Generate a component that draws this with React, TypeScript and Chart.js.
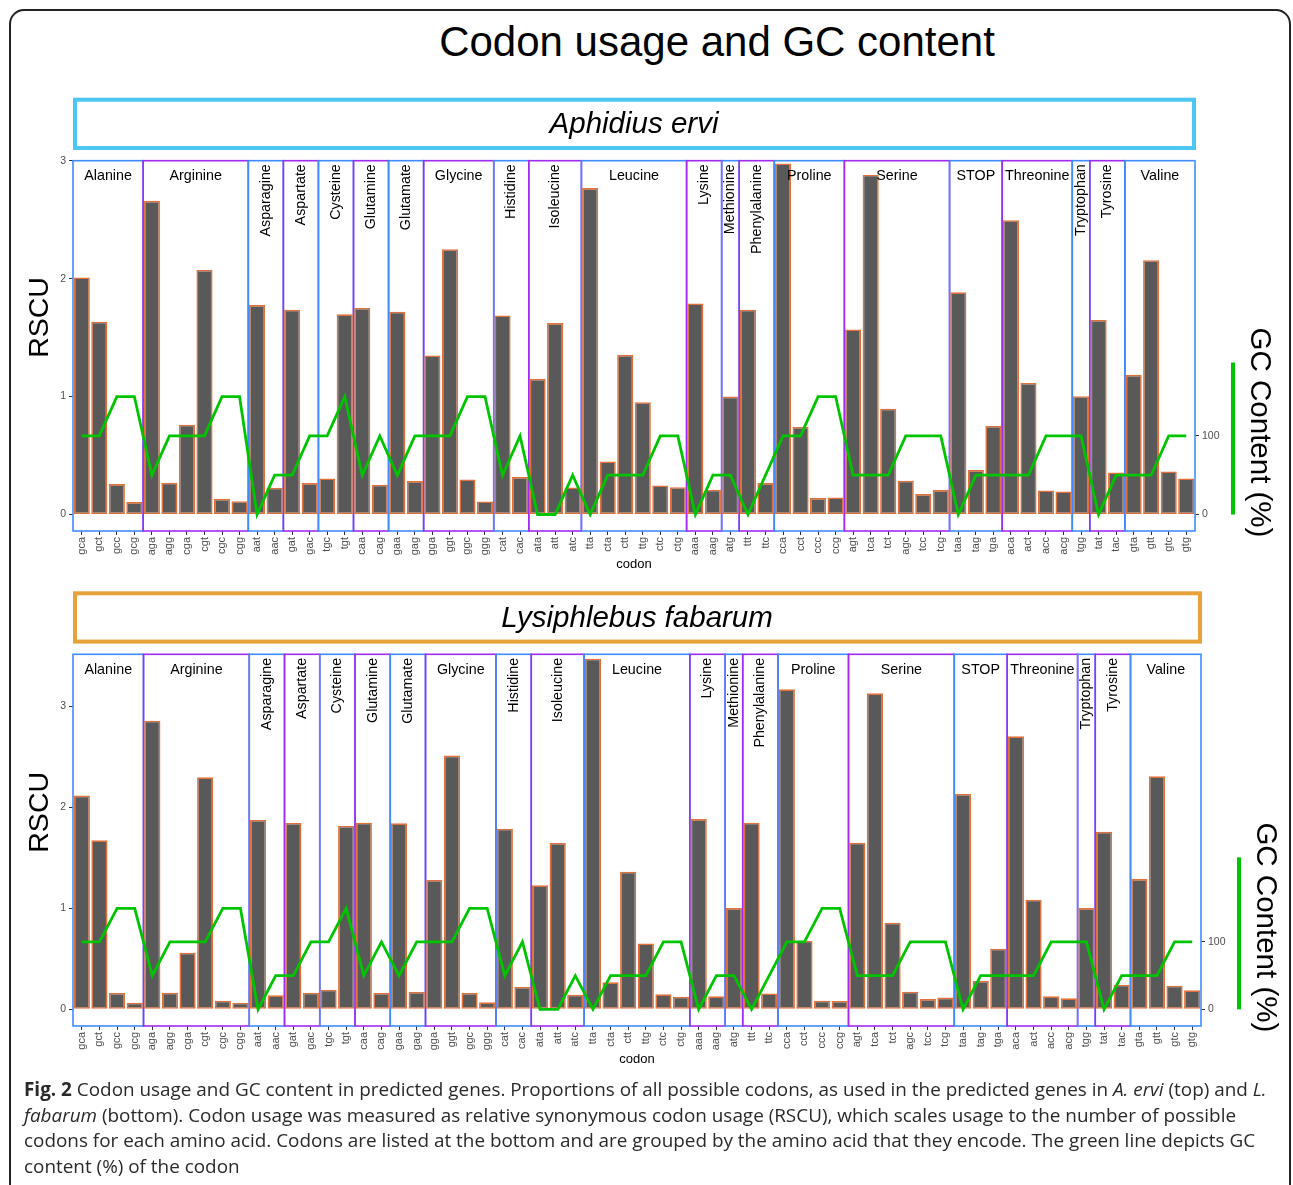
import React, { useEffect, useRef } from 'react';
import { Chart, registerables } from 'chart.js';

Chart.register(...registerables);

const FONT = '"Liberation Sans", Arial, Helvetica, sans-serif';

// ---------------- data ----------------
const CODONS = [
  'gca', 'gct', 'gcc', 'gcg',
  'aga', 'agg', 'cga', 'cgt', 'cgc', 'cgg',
  'aat', 'aac',
  'gat', 'gac',
  'tgc', 'tgt',
  'caa', 'cag',
  'gaa', 'gag',
  'gga', 'ggt', 'ggc', 'ggg',
  'cat', 'cac',
  'ata', 'att', 'atc',
  'tta', 'cta', 'ctt', 'ttg', 'ctc', 'ctg',
  'aaa', 'aag',
  'atg',
  'ttt', 'ttc',
  'cca', 'cct', 'ccc', 'ccg',
  'agt', 'tca', 'tct', 'agc', 'tcc', 'tcg',
  'taa', 'tag', 'tga',
  'aca', 'act', 'acc', 'acg',
  'tgg',
  'tat', 'tac',
  'gta', 'gtt', 'gtc', 'gtg',
];

const AMINO_ACIDS = [
  'Alanine', 'Arginine', 'Asparagine', 'Aspartate', 'Cysteine', 'Glutamine',
  'Glutamate', 'Glycine', 'Histidine', 'Isoleucine', 'Leucine', 'Lysine',
  'Methionine', 'Phenylalanine', 'Proline', 'Serine', 'STOP', 'Threonine',
  'Tryptophan', 'Tyrosine', 'Valine',
];

const GROUP_SIZES = [4, 6, 2, 2, 2, 2, 2, 4, 2, 3, 6, 2, 1, 2, 4, 6, 3, 4, 1, 2, 4];

// GC content of each codon (fraction, drawn on the RSCU scale)
const GC_FRACTION = [
  0.667, 0.667, 1, 1,
  0.333, 0.667, 0.667, 0.667, 1, 1,
  0, 0.333,
  0.333, 0.667,
  0.667, 1,
  0.333, 0.667,
  0.333, 0.667,
  0.667, 0.667, 1, 1,
  0.333, 0.667,
  0, 0, 0.333,
  0, 0.333, 0.333, 0.333, 0.667, 0.667,
  0, 0.333,
  0.333,
  0, 0.333,
  0.667, 0.667, 1, 1,
  0.333, 0.333, 0.333, 0.667, 0.667, 0.667,
  0, 0.333, 0.333,
  0.333, 0.333, 0.667, 0.667,
  0.667,
  0, 0.333,
  0.333, 0.333, 0.667, 0.667,
];

const RSCU_A_ERVI = [
  2.01, 1.635, 0.258, 0.105,
  2.66, 0.269, 0.762, 2.074, 0.133, 0.113,
  1.776, 0.227,
  1.737, 0.266,
  0.306, 1.697,
  1.751, 0.252,
  1.72, 0.283,
  1.348, 2.249, 0.297, 0.11,
  1.688, 0.317,
  1.15, 1.623, 0.229,
  2.768, 0.45, 1.354, 0.952, 0.246, 0.232,
  1.79, 0.21,
  1.0,
  1.737, 0.266,
  2.977, 0.742, 0.139, 0.144,
  1.569, 2.881, 0.897, 0.286, 0.173, 0.207,
  1.884, 0.377, 0.751,
  2.496, 1.116, 0.204, 0.195,
  1.003,
  1.649, 0.357,
  1.184, 2.156, 0.365, 0.306,
];

const RSCU_L_FABARUM = [
  2.116, 1.673, 0.162, 0.066,
  2.858, 0.165, 0.561, 2.297, 0.086, 0.066,
  1.875, 0.139,
  1.845, 0.165,
  0.195, 1.815,
  1.848, 0.162,
  1.842, 0.172,
  1.281, 2.512, 0.162, 0.069,
  1.789, 0.221,
  1.228, 1.647, 0.145,
  3.472, 0.267, 1.363, 0.653, 0.149, 0.125,
  1.884, 0.129,
  1.003,
  1.848, 0.158,
  3.168, 0.68, 0.086, 0.083,
  1.65, 3.129, 0.858, 0.175, 0.102, 0.116,
  2.132, 0.281, 0.601,
  2.703, 1.086, 0.129, 0.109,
  1.003,
  1.759, 0.244,
  1.29, 2.307, 0.234, 0.188,
];

const RSCU_TICKS = [0, 1, 2, 3];
const GC_TICKS = [0, 100];
const GC_AXIS_FACTOR = 150;

// ---------------- styles ----------------
const BLUE = '#3F8CFF';
const PURPLE = '#A22BF2';
const BAR_FILL = '#595959';
const BAR_EDGE = '#E2703A';
const GREEN = '#00C400';
const TICK_GREY = '#4D4D4D';

type PanelCfg = {
  title: string;
  headerColor: string;
  values: number[];
  yMin: number;
  yMax: number;
  top: number;
  height: number;
  padTop: number;
  xAxisHeight: number;
  rightWidth: number;
};

const decorPlugin = {
  id: 'panelDecor',
  beforeDatasetsDraw(chart: any) {
    const { ctx, chartArea } = chart;
    const x = chart.scales.x;
    const step = x.getPixelForValue(1) - x.getPixelForValue(0);
    let start = 0;
    GROUP_SIZES.forEach((n, gi) => {
      const left = x.getPixelForValue(start) - step / 2;
      const right = x.getPixelForValue(start + n - 1) + step / 2;
      ctx.save();
      ctx.strokeStyle = gi % 2 === 0 ? BLUE : PURPLE;
      ctx.lineWidth = 1.6;
      ctx.strokeRect(left, chartArea.top, right - left, chartArea.bottom - chartArea.top);
      ctx.restore();
      start += n;
    });
  },
  afterDatasetsDraw(chart: any) {
    const { ctx, chartArea } = chart;
    const x = chart.scales.x;
    const step = x.getPixelForValue(1) - x.getPixelForValue(0);
    let start = 0;
    GROUP_SIZES.forEach((n, gi) => {
      const left = x.getPixelForValue(start) - step / 2;
      const right = x.getPixelForValue(start + n - 1) + step / 2;
      const name = AMINO_ACIDS[gi];
      ctx.save();
      ctx.font = `14.3px ${FONT}`;
      ctx.fillStyle = '#000';
      const w = ctx.measureText(name).width;
      if (w <= right - left) {
        ctx.textAlign = 'center';
        ctx.textBaseline = 'middle';
        ctx.fillText(name, (left + right) / 2, chartArea.top + 15.5);
      } else {
        ctx.translate((left + right) / 2, chartArea.top + 3.5);
        ctx.rotate(-Math.PI / 2);
        ctx.textAlign = 'right';
        ctx.textBaseline = 'middle';
        ctx.fillText(name, 0, 0);
      }
      ctx.restore();
      start += n;
    });
  },
  afterDraw(chart: any, _args: any, opts: any) {
    const { ctx, chartArea } = chart;
    const y = chart.scales.y;
    const y0 = y.getPixelForValue(0);
    ctx.save();
    // panel header
    const hTop = chartArea.top - 63;
    const hBottom = chartArea.top - 10.7;
    const hLeft = chartArea.left;
    const hRight = chartArea.right + 1;
    ctx.strokeStyle = opts.headerColor;
    ctx.lineWidth = 4;
    ctx.strokeRect(hLeft + 2, hTop + 2, hRight - hLeft - 4, hBottom - hTop - 4);
    ctx.fillStyle = '#000';
    ctx.font = `italic 29.5px ${FONT}`;
    ctx.textAlign = 'center';
    ctx.textBaseline = 'middle';
    ctx.fillText(opts.title, (chartArea.left + chartArea.right) / 2, (hTop + hBottom) / 2 + 1);

    // x axis title
    ctx.font = `13px ${FONT}`;
    ctx.fillText('codon', (chartArea.left + chartArea.right) / 2, chartArea.bottom + 33);

    // left title
    ctx.save();
    ctx.translate(40, y0 - 197);
    ctx.rotate(-Math.PI / 2);
    ctx.font = `28.5px ${FONT}`;
    ctx.fillText('RSCU', 0, 0);
    ctx.restore();

    // right title + green key
    ctx.save();
    ctx.translate(chartArea.right + 64, y0 - 82);
    ctx.rotate(Math.PI / 2);
    ctx.font = `29.5px ${FONT}`;
    ctx.fillText('GC Content (%)', 0, 0);
    ctx.restore();

    ctx.fillStyle = GREEN;
    ctx.fillRect(chartArea.right + 36, y0 - 76 - 76, 4, 152);
    ctx.restore();
  },
};

function Panel({ cfg }: { cfg: PanelCfg }) {
  const ref = useRef<HTMLCanvasElement | null>(null);
  useEffect(() => {
    if (!ref.current) return;
    const chart = new Chart(ref.current, {
      type: 'bar',
      data: {
        labels: CODONS,
        datasets: [
          {
            type: 'line',
            label: 'GC',
            data: GC_FRACTION,
            yAxisID: 'y',
            borderColor: GREEN,
            borderWidth: 2.8,
            pointRadius: 0,
            tension: 0,
            fill: false,
            order: 0,
          } as any,
          {
            type: 'bar',
            label: 'RSCU',
            data: cfg.values,
            yAxisID: 'y',
            backgroundColor: BAR_FILL,
            borderColor: BAR_EDGE,
            borderWidth: 1.6,
            borderSkipped: false,
            barPercentage: 0.92,
            categoryPercentage: 1,
            order: 1,
          } as any,
        ],
      },
      options: {
        responsive: false,
        animation: false,
        devicePixelRatio: 1,
        layout: { padding: { top: cfg.padTop, left: 0, right: 0, bottom: 0 } },
        plugins: {
          legend: { display: false },
          tooltip: { enabled: false },
          panelDecor: { title: cfg.title, headerColor: cfg.headerColor },
        } as any,
        scales: {
          x: {
            type: 'category',
            offset: true,
            grid: {
              display: true,
              offset: false,
              drawOnChartArea: false,
              drawTicks: true,
              tickLength: 4,
              color: '#333',
              lineWidth: 1,
            },
            border: { display: false },
            ticks: {
              autoSkip: false,
              maxRotation: 90,
              minRotation: 90,
              padding: 2,
              color: TICK_GREY,
              font: { family: FONT, size: 11 },
            },
            afterFit: (s: any) => {
              s.height = cfg.xAxisHeight;
            },
          },
          y: {
            type: 'linear',
            position: 'left',
            min: cfg.yMin,
            max: cfg.yMax,
            grid: {
              drawOnChartArea: false,
              drawTicks: true,
              tickLength: 4,
              color: '#333',
            },
            border: { display: false },
            ticks: { color: TICK_GREY, padding: 3, font: { family: FONT, size: 10.5 } },
            afterBuildTicks: (s: any) => {
              s.ticks = RSCU_TICKS.map((v) => ({ value: v }));
            },
            afterFit: (s: any) => {
              s.width = 73;
            },
          },
          y2: {
            type: 'linear',
            position: 'right',
            min: cfg.yMin * GC_AXIS_FACTOR,
            max: cfg.yMax * GC_AXIS_FACTOR,
            grid: {
              drawOnChartArea: false,
              drawTicks: true,
              tickLength: 4,
              color: '#333',
            },
            border: { display: false },
            ticks: { color: TICK_GREY, padding: 3, font: { family: FONT, size: 10.5 } },
            afterBuildTicks: (s: any) => {
              s.ticks = GC_TICKS.map((v) => ({ value: v }));
            },
            afterFit: (s: any) => {
              s.width = cfg.rightWidth;
            },
          },
        },
      } as any,
      plugins: [decorPlugin as any],
    });
    return () => chart.destroy();
  }, [cfg]);
  return (
    <canvas
      ref={ref}
      width={1293}
      height={cfg.height}
      style={{ position: 'absolute', left: 0, top: cfg.top, width: 1293, height: cfg.height }}
    />
  );
}

const TOP_PANEL: PanelCfg = {
  title: 'Aphidius ervi',
  headerColor: '#4CC6F2',
  values: RSCU_A_ERVI,
  yMin: -0.14,
  yMax: 3.0,
  top: 90,
  height: 492,
  padTop: 70.7,
  xAxisHeight: 51,
  rightWidth: 98,
};

const BOTTOM_PANEL: PanelCfg = {
  title: 'Lysiphlebus fabarum',
  headerColor: '#E8A23A',
  values: RSCU_L_FABARUM,
  yMin: -0.165,
  yMax: 3.515,
  top: 582,
  height: 500,
  padTop: 72.3,
  xAxisHeight: 56,
  rightWidth: 92,
};

export default function App() {
  return (
    <div
      style={{
        position: 'absolute',
        left: 0,
        top: 0,
        width: 1293,
        height: 1185,
        overflow: 'hidden',
        background: '#fff',
      }}
    >
      <div
        style={{
          position: 'absolute',
          left: 9,
          top: 9,
          width: 1278,
          height: 1260,
          border: '2px solid #222',
          borderRadius: 15,
        }}
      />
      <div
        style={{
          position: 'absolute',
          left: 317,
          width: 800,
          top: 19,
          textAlign: 'center',
          fontFamily: FONT,
          fontSize: 42,
          lineHeight: '46px',
          color: '#000',
          whiteSpace: 'nowrap',
        }}
      >
        Codon usage and GC content
      </div>
      <Panel cfg={TOP_PANEL} />
      <Panel cfg={BOTTOM_PANEL} />
      <div
        style={{
          position: 'absolute',
          left: 24,
          top: 1077,
          fontFamily: '"Open Sans", "Noto Sans", sans-serif',
          fontSize: 18.9,
          lineHeight: '25.7px',
          color: '#2A2A2A',
          whiteSpace: 'nowrap',
        }}
      >
        <b>Fig. 2</b> Codon usage and GC content in predicted genes. Proportions of all possible codons, as used in the predicted genes in <i>A. ervi</i> (top) and <i>L.</i>
        <br />
        <i>fabarum</i> (bottom). Codon usage was measured as relative synonymous codon usage (RSCU), which scales usage to the number of possible
        <br />
        codons for each amino acid. Codons are listed at the bottom and are grouped by the amino acid that they encode. The green line depicts GC
        <br />
        content (%) of the codon
      </div>
    </div>
  );
}
